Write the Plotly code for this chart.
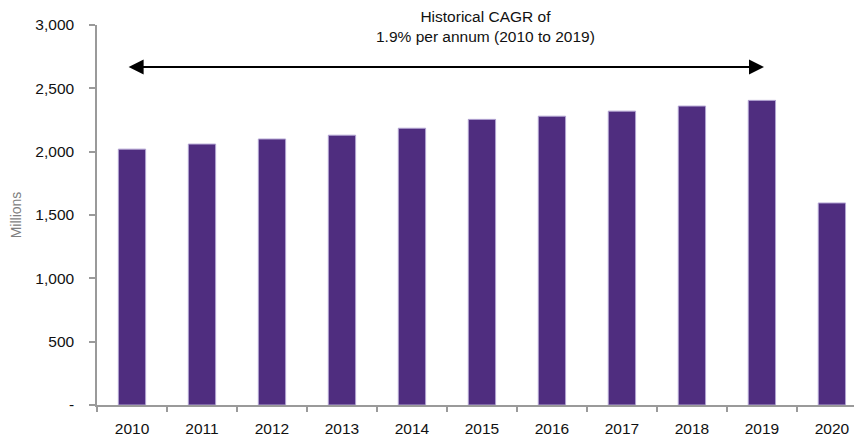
import plotly.graph_objects as go

years = ["2010", "2011", "2012", "2013", "2014", "2015", "2016", "2017", "2018", "2019", "2020"]
values = [2020, 2060, 2100, 2130, 2185, 2255, 2280, 2320, 2360, 2405, 1595]
y_tickvals = [0, 500, 1000, 1500, 2000, 2500, 3000]
y_ticktext = ["-", "500", "1,000", "1,500", "2,000", "2,500", "3,000"]
annotation_text = "Historical CAGR of<br>1.9% per annum (2010 to 2019)"
arrow_level = 2668

FONT = "Liberation Sans, Arial, sans-serif"

fig = go.Figure()
fig.add_trace(go.Bar(
    x=years, y=values,
    marker=dict(color="#4f2d7f", line=dict(color="#b3a5d3", width=1)),
    width=0.39,
))

fig.add_annotation(
    x=9.03, y=arrow_level, ax=-0.07, ay=arrow_level,
    xref="x", yref="y", axref="x", ayref="y",
    showarrow=True, arrowhead=2, startarrowhead=2, arrowside="end+start",
    arrowwidth=2, arrowsize=1.5, startarrowsize=1.5, arrowcolor="#000000",
    text="",
)
fig.add_annotation(
    x=5.05, y=2990, xref="x", yref="y",
    text=annotation_text, showarrow=False,
    font=dict(family=FONT, size=15.5, color="#111111"),
    yanchor="middle", xanchor="center", align="center",
)

fig.update_layout(
    width=854, height=433,
    margin=dict(l=89, r=0, t=17, b=36),
    plot_bgcolor="white", paper_bgcolor="white",
    showlegend=False,
    font=dict(family=FONT, size=15.5, color="#222222"),
    xaxis=dict(
        type="category", range=[-0.5, 10.43],
        showline=True, linecolor="#9a9a9a", linewidth=1.5,
        ticks="outside", ticklen=5, tickcolor="#9a9a9a", tickwidth=1.5,
        tickson="boundaries", showgrid=False,
        tickfont=dict(family=FONT, size=15.5, color="#111111"),
        ticklabelstandoff=9,
    ),
    yaxis=dict(
        range=[0, 3000],
        tickvals=y_tickvals, ticktext=y_ticktext,
        showline=True, linecolor="#9a9a9a", linewidth=1.5,
        ticks="outside", ticklen=6, tickcolor="#9a9a9a", tickwidth=1.5,
        showgrid=False, zeroline=False,
        tickfont=dict(family=FONT, size=15.5, color="#111111"),
        ticklabelstandoff=12,
        title=dict(text="Millions", font=dict(family=FONT, size=14, color="#808080"), standoff=12),
    ),
)

fig.write_html("out.html")
